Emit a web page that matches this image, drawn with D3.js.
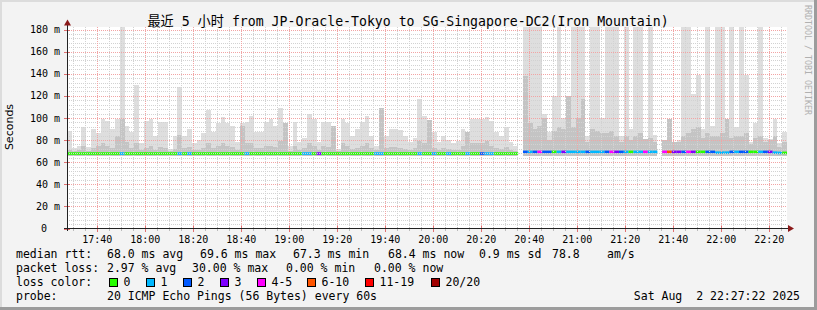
<!DOCTYPE html>
<html>
<head>
<meta charset="utf-8">
<script src="https://cdn.jsdelivr.net/npm/d3@7"></script>
<style>
  body { margin: 0; background: #f3f3f3; }
  svg { display: block; }
  text { white-space: pre; }
</style>
</head>
<body>
<svg id="chart" width="817" height="310"></svg>
<script>
// time window of the graph (last 5 hours, one smoke column every 2 minutes)
const startTime = new Date(2025, 7, 2, 17, 27, 22);
const endTime = new Date(2025, 7, 2, 22, 27, 22);
const stepMinutes = 2;

// top of the light smoke (max rtt in ms), null = no data
const smokeMax = [
  88, 73, 75, 92, 74, 90, 86, 99, 97, 90,
  99, 182, 93, 87, 130, 77, 97, 99, 84, 96,
  96, 72, 84, 128, 84, 90, 77, 80, 86, 107,
  87, 95, 101, 95, 93, 78, 95, 96, 102, 87,
  87, 96, 99, 93, 109, 95, 75, 96, 78, 82,
  104, 99, 78, 96, 96, 93, 72, 99, 95, 84,
  90, 96, 102, 84, 75, 109, 84, 90, 90, 89,
  84, 78, 82, 117, 102, 98, 87, 78, 84, 80,
  77, 79, 90, 87, 99, 99, 99, 101, 97, 87,
  84, 92, 78, 75, null, 200, 200, 200, 200, 104,
  87, 120, 200, 100, 120, 200, 200, 200, 84, 200,
  200, 100, 200, 200, 200, 84, 200, 90, 200, 200,
  81, 200, 85, null, 80, 99, 78, 80, 200, 200,
  122, 139, 90, 200, 93, 200, 200, 99, 200, 92,
  200, 139, 78, 95, 200, 82, 81, 99, 77, 87
];

// top of the darker inner smoke (ms)
const smokeMid = [
  71, 70, 71, 75, 70, 73, 75, 77, 75, 73,
  84, 99, 78, 73, 77, 71, 73, 75, 71, 74,
  73, 70, 72, 85, 73, 74, 71, 71, 73, 77,
  73, 75, 77, 75, 74, 71, 93, 77, 77, 73,
  73, 75, 75, 74, 79, 95, 70, 75, 71, 73,
  77, 75, 71, 75, 74, 93, 70, 77, 75, 72,
  73, 75, 77, 73, 71, 109, 73, 74, 74, 73,
  72, 71, 73, 79, 77, 98, 73, 71, 73, 72,
  71, 71, 75, 87, 77, 77, 77, 79, 75, 73,
  72, 74, 71, 70, null, 138, 95, 90, 93, 100,
  80, 88, 92, 90, 120, 92, 100, 117, 78, 90,
  88, 86, 86, 88, 84, 78, 84, 80, 84, 86,
  81, 82, 78, null, 80, 99, 78, 78, 84, 86,
  90, 92, 82, 86, 84, 84, 86, 99, 82, 84,
  84, 86, 76, 82, 84, 78, 80, 84, 74, 78
];

// median rtt (ms)
const medianRtt = [
  67.8, 67.8, 67.8, 67.8, 67.8, 67.8, 67.8, 67.8, 67.8, 67.8,
  67.8, 67.8, 67.8, 67.8, 67.8, 67.8, 67.8, 67.8, 67.8, 67.8,
  67.8, 67.8, 67.8, 67.8, 67.8, 67.8, 67.8, 67.8, 67.8, 67.8,
  67.8, 67.8, 67.8, 67.8, 67.8, 67.8, 67.8, 67.8, 67.8, 67.8,
  67.8, 67.8, 67.8, 67.8, 67.8, 67.8, 67.8, 67.8, 67.8, 67.8,
  67.8, 67.8, 67.8, 67.8, 67.8, 67.8, 67.8, 67.8, 67.8, 67.8,
  67.8, 67.8, 67.8, 67.8, 67.8, 67.8, 67.8, 67.8, 67.8, 67.8,
  67.8, 67.8, 67.8, 67.8, 67.8, 67.8, 67.8, 67.8, 67.8, 67.8,
  67.8, 67.8, 67.8, 67.8, 67.8, 67.8, 67.8, 67.8, 67.8, 67.8,
  67.8, 67.8, 67.8, 67.8, null, 69.3, 69.3, 69.3, 69.3, 69.3,
  69.3, 69.3, 69.3, 69.3, 69.3, 69.3, 69.3, 69.3, 69.3, 69.3,
  69.3, 69.3, 69.3, 69.3, 69.3, 69.3, 69.3, 69.3, 69.3, 69.3,
  69.3, 69.3, 69.3, null, 69.3, 69.3, 69.3, 69.3, 69.3, 69.3,
  69.3, 69.3, 69.3, 69.3, 69.3, 68.6, 68.6, 68.6, 69.3, 69.3,
  69.3, 69.3, 69.3, 69.3, 69.3, 69.3, 69.3, 68.6, 68.4, 68.4
];

// lost pings out of 20 per column
const lossCount = [
  0, 0, 0, 0, 0, 0, 0, 0, 0, 0,
  0, 1, 0, 0, 0, 0, 0, 0, 0, 0,
  0, 0, 0, 1, 0, 1, 0, 0, 0, 0,
  0, 0, 0, 0, 0, 0, 0, 1, 0, 0,
  0, 0, 0, 0, 0, 0, 0, 0, 0, 1,
  1, 0, 3, 0, 0, 0, 0, 0, 0, 0,
  0, 0, 0, 0, 1, 1, 0, 0, 0, 0,
  0, 0, 0, 1, 0, 0, 1, 0, 0, 1,
  0, 0, 0, 1, 0, 0, 2, 1, 1, 0,
  0, 0, 0, 0, null, 2, 1, 2, 4, 2,
  2, 0, 1, 3, 1, 1, 1, 1, 2, 1,
  1, 1, 2, 4, 3, 2, 1, 0, 1, 1,
  4, 1, 1, null, 4, 6, 3, 3, 2, 4,
  3, 0, 0, 2, 2, 1, 1, 1, 2, 1,
  2, 2, 0, 0, 1, 2, 3, 1, 1, 0
];

const yTicks = [0, 20, 40, 60, 80, 100, 120, 140, 160, 180];
const lossLabels = ["0", "1", "2", "3", "4-5", "6-10", "11-19", "20/20"];
const lossColors = ["#26ff00", "#00b8ff", "#0059ff", "#7e00ff", "#ff00ff", "#ff5500", "#ff0000", "#a10000"];
const lossUpper = [0, 1, 2, 3, 5, 10, 19, 20];

const titleText = "最近 5 小时 from JP-Oracle-Tokyo to SG-Singapore-DC2(Iron Mountain)";
const legendRtt = [
  ["median rtt:", 16], ["68.0 ms avg", 107], ["69.6 ms max", 200], ["67.3 ms min", 293],
  ["68.4 ms now", 388], ["0.9 ms sd", 479], ["78.8", 552], ["am/s", 607]
];
const legendLoss = [
  ["packet loss:", 16], ["2.97 % avg", 107], ["30.00 % max", 192], ["0.00 % min", 286], ["0.00 % now", 374]
];
const lossBoxX = [109, 146, 183, 220, 257, 307, 365, 431];

const mono = "'DejaVu Sans Mono', monospace";
const svg = d3.select("#chart");

// frame
svg.append("rect").attr("width", 817).attr("height", 310).attr("fill", "#f3f3f3");
svg.append("rect").attr("x", 0).attr("y", 0).attr("width", 817).attr("height", 2).attr("fill", "#dcdcdc");
svg.append("rect").attr("x", 0).attr("y", 0).attr("width", 2).attr("height", 310).attr("fill", "#dcdcdc");
svg.append("rect").attr("x", 0).attr("y", 307).attr("width", 817).attr("height", 3).attr("fill", "#9c9c9c");
svg.append("rect").attr("x", 814).attr("y", 0).attr("width", 3).attr("height", 310).attr("fill", "#9c9c9c");

const x = d3.scaleTime().domain([startTime, endTime]).range([67, 787]);
const y = d3.scaleLinear().domain([0, 180]).range([228.5, 29.5]);
const plotTop = 27, plotBottom = 228.5, smokeFloor = 66;

// canvas
svg.append("rect").attr("x", 67).attr("y", plotTop).attr("width", 720)
  .attr("height", plotBottom - plotTop).attr("fill", "#ffffff");

svg.append("clipPath").attr("id", "plotClip").append("rect")
  .attr("x", 67).attr("y", plotTop).attr("width", 720).attr("height", plotBottom - plotTop);

const samples = smokeMax.map((hi, i) => ({
  t0: d3.timeMinute.offset(startTime, i * stepMinutes),
  t1: d3.timeMinute.offset(startTime, (i + 1) * stepMinutes),
  hi: hi, mid: smokeMid[i], med: medianRtt[i], loss: lossCount[i]
})).filter(d => d.hi != null);

const plot = svg.append("g").attr("clip-path", "url(#plotClip)");

// smoke
plot.selectAll(".smoke-light").data(samples).enter().append("rect")
  .attr("x", d => x(d.t0)).attr("width", d => x(d.t1) - x(d.t0))
  .attr("y", d => y(d.hi)).attr("height", d => y(smokeFloor) - y(d.hi))
  .attr("fill", "#dedede").attr("shape-rendering", "crispEdges");
plot.selectAll(".smoke-mid").data(samples).enter().append("rect")
  .attr("x", d => x(d.t0)).attr("width", d => x(d.t1) - x(d.t0))
  .attr("y", d => y(d.mid)).attr("height", d => y(smokeFloor) - y(d.mid))
  .attr("fill", "#c4c4c4").attr("shape-rendering", "crispEdges");

// grid (drawn over the smoke like rrdtool does)
const grid = svg.append("g").attr("shape-rendering", "crispEdges");
const minorT = d3.timeMinute.every(5).range(startTime, endTime);
const majorT = d3.timeMinute.every(20).range(startTime, endTime);
grid.selectAll(".vmin").data(minorT.filter(t => t.getMinutes() % 20 !== 0)).enter().append("line")
  .attr("x1", d => Math.round(x(d)) + 0.5).attr("x2", d => Math.round(x(d)) + 0.5)
  .attr("y1", plotTop).attr("y2", plotBottom)
  .attr("stroke", "#d2d2d2").attr("stroke-dasharray", "1,1");
const minorY = d3.range(4, 181, 4).filter(v => v % 20 !== 0);
grid.selectAll(".hmin").data(minorY).enter().append("line")
  .attr("x1", 67).attr("x2", 787)
  .attr("y1", d => Math.round(y(d)) + 0.5).attr("y2", d => Math.round(y(d)) + 0.5)
  .attr("stroke", "#d2d2d2").attr("stroke-dasharray", "1,1");
grid.selectAll(".vmaj").data(majorT).enter().append("line")
  .attr("x1", d => Math.round(x(d)) + 0.5).attr("x2", d => Math.round(x(d)) + 0.5)
  .attr("y1", plotTop).attr("y2", plotBottom)
  .attr("stroke", "#f2a4a4").attr("stroke-dasharray", "1,1");
grid.selectAll(".hmaj").data(yTicks.filter(v => v > 0)).enter().append("line")
  .attr("x1", 67).attr("x2", 787)
  .attr("y1", d => Math.round(y(d)) + 0.5).attr("y2", d => Math.round(y(d)) + 0.5)
  .attr("stroke", "#f2a4a4").attr("stroke-dasharray", "1,1");

// median line coloured by loss
function lossColor(n) {
  return lossColors[lossUpper.findIndex(u => n <= u)];
}
plot.selectAll(".median").data(samples.filter(d => d.med != null)).enter().append("rect")
  .attr("x", d => x(d.t0)).attr("width", d => x(d.t1) - x(d.t0))
  .attr("y", d => y(d.med) - 1.3).attr("height", 2.6)
  .attr("fill", d => lossColor(d.loss));

// axes
const axis = svg.append("g").attr("shape-rendering", "crispEdges");
axis.selectAll(".xtmin").data(minorT).enter().append("line")
  .attr("x1", d => Math.round(x(d)) + 0.5).attr("x2", d => Math.round(x(d)) + 0.5)
  .attr("y1", 227).attr("y2", 231).attr("stroke", "#bbbbbb");
axis.selectAll(".xtmaj").data(majorT).enter().append("line")
  .attr("x1", d => Math.round(x(d)) + 0.5).attr("x2", d => Math.round(x(d)) + 0.5)
  .attr("y1", 226).attr("y2", 232).attr("stroke", "#e07070");
axis.selectAll(".ytmaj").data(yTicks).enter().append("line")
  .attr("x1", 64).attr("x2", 70)
  .attr("y1", d => Math.round(y(d)) + 0.5).attr("y2", d => Math.round(y(d)) + 0.5)
  .attr("stroke", "#e07070");
axis.append("line").attr("x1", 64).attr("x2", 789).attr("y1", 228.5).attr("y2", 228.5).attr("stroke", "#222");
axis.append("line").attr("x1", 67.5).attr("x2", 67.5).attr("y1", 231).attr("y2", 25).attr("stroke", "#222");
svg.append("path").attr("d", "M788,225 L794,228.5 L788,232 Z").attr("fill", "#8b1a1a");
svg.append("path").attr("d", "M64,25.5 L67.5,19.5 L71,25.5 Z").attr("fill", "#8b1a1a");

// tick labels
svg.selectAll(".xlab").data(majorT).enter().append("text")
  .attr("x", d => x(d)).attr("y", 243).attr("text-anchor", "middle")
  .style("font-family", mono).style("font-size", "10px").attr("fill", "#000")
  .text(d3.timeFormat("%H:%M"));
svg.selectAll(".ylab").data(yTicks).enter().append("text")
  .attr("x", d => d === 0 ? 47 : 60).attr("y", d => y(d) + 3.6).attr("text-anchor", "end")
  .style("font-family", mono).style("font-size", "10px").attr("fill", "#000")
  .text(d => d === 0 ? "0" : d + " m");

svg.append("text").attr("transform", "translate(13,127) rotate(-90)").attr("text-anchor", "middle")
  .style("font-family", "'DejaVu Sans', sans-serif").style("font-size", "11px").text("Seconds");

// title
svg.append("text").attr("x", 408).attr("y", 26).attr("text-anchor", "middle")
  .style("font-family", mono + ", 'Noto Sans CJK SC'").style("font-size", "13.2px").text(titleText);

// watermark
svg.append("text").attr("transform", "translate(804.5,5) rotate(90)")
  .style("font-family", mono).style("font-size", "8.3px").attr("fill", "#b0b0b0")
  .text("RRDTOOL / TOBI OETIKER");

// legend
const legend = svg.append("g").style("font-family", mono).style("font-size", "11.5px");
legend.selectAll(".l1").data(legendRtt).enter().append("text")
  .attr("x", d => d[1]).attr("y", 258).text(d => d[0]);
legend.selectAll(".l2").data(legendLoss).enter().append("text")
  .attr("x", d => d[1]).attr("y", 272).text(d => d[0]);
legend.append("text").attr("x", 16).attr("y", 286).text("loss color:");
legend.selectAll(".lbox").data(lossLabels).enter().append("rect")
  .attr("x", (d, i) => lossBoxX[i] + 0.5).attr("y", 278.5).attr("width", 8).attr("height", 8)
  .attr("fill", (d, i) => lossColors[i]).attr("stroke", "#000").attr("shape-rendering", "crispEdges");
legend.selectAll(".llab").data(lossLabels).enter().append("text")
  .attr("x", (d, i) => lossBoxX[i] + 14.5).attr("y", 286).text(d => d);
legend.append("text").attr("x", 16).attr("y", 300).text("probe:");
legend.append("text").attr("x", 107).attr("y", 300).text("20 ICMP Echo Pings (56 Bytes) every 60s");
legend.append("text").attr("x", 800).attr("y", 300).attr("text-anchor", "end").text("Sat Aug  2 22:27:22 2025");
</script>
</body>
</html>
